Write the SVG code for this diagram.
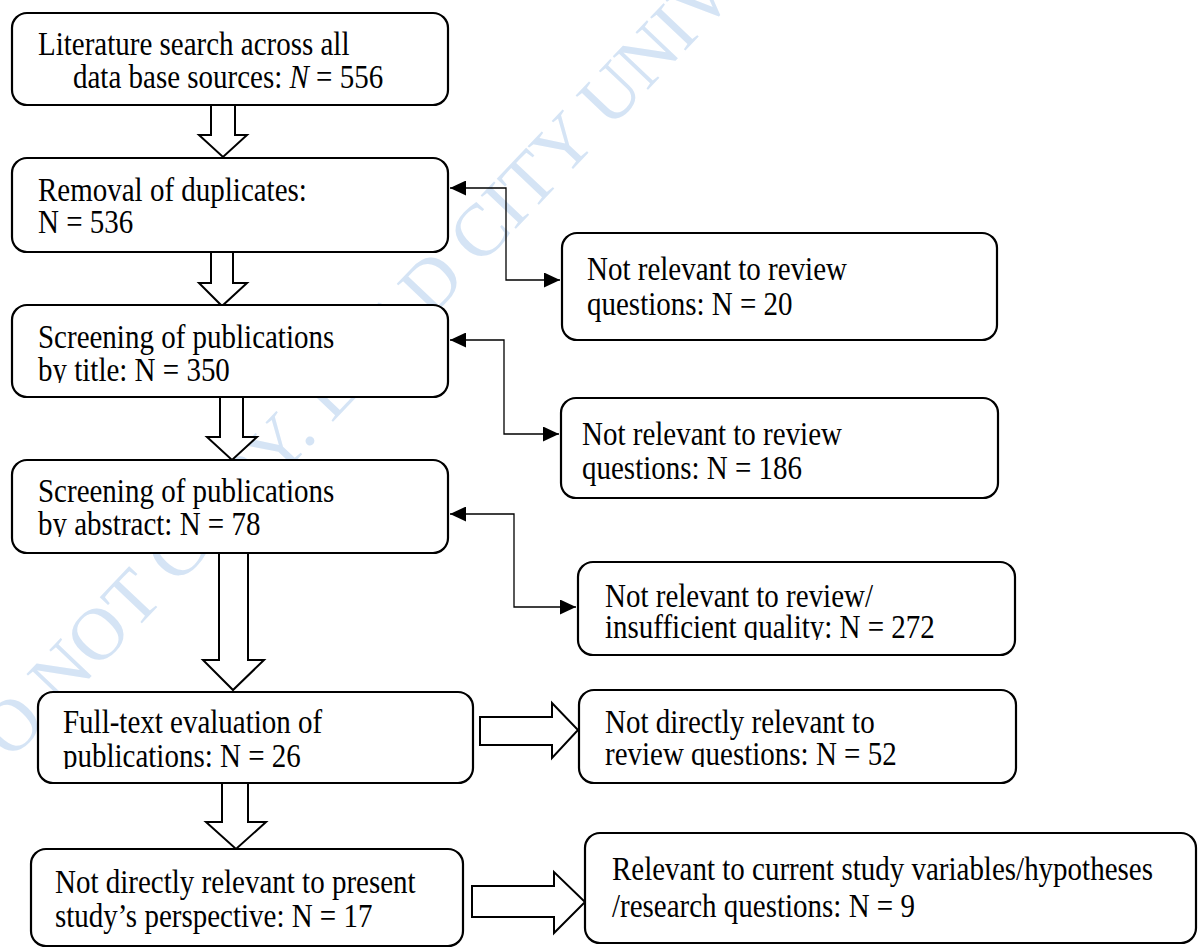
<svg xmlns="http://www.w3.org/2000/svg" width="1199" height="949" viewBox="0 0 1199 949">
<style>
.box{fill:#fff;stroke:#000;stroke-width:2.2}
.t{font-family:"Liberation Serif","Times New Roman",serif;font-size:29px;fill:#000}
.blk{fill:#fff;stroke:#000;stroke-width:2;stroke-linejoin:miter}
.conn{fill:none;stroke:#000;stroke-width:1.3}
.wm{font-family:"Liberation Serif","Times New Roman",serif;font-size:74px;fill:#d5e4f5}
</style>
<defs>
<marker id="ah" viewBox="0 0 16 15" refX="16" refY="7.5" markerWidth="16" markerHeight="15" markerUnits="userSpaceOnUse" orient="auto-start-reverse"><path d="M0,0 L16,7.5 L0,15 Z" fill="#000"/></marker>
<clipPath id="c3"><rect x="0" y="0" width="1199" height="383"/></clipPath>
<clipPath id="c4"><rect x="0" y="0" width="1199" height="537"/></clipPath>
<clipPath id="c7"><rect x="0" y="0" width="1199" height="640"/></clipPath>
<clipPath id="c8"><rect x="0" y="0" width="1199" height="769"/></clipPath>
<clipPath id="c9"><rect x="0" y="0" width="1199" height="767"/></clipPath>
</defs>
<rect width="1199" height="949" fill="#fff"/>
<text class="wm" transform="translate(-26,800) rotate(-46.5)">DO NOT COPY. LEAD CITY UNIVERSITY</text>

<g id="flow-arrows">
<path class="blk" d="M211,105 V135 H199 L223,157 L247,135 H235 V105"/>
<path class="blk" d="M211,252 V283 H199 L222,306 L247,283 H233 V252"/>
<path class="blk" d="M220,397 V437 H207 L232,460 L257,437 H243 V397"/>
<path class="blk" d="M219,553 V660 H203 L233,690 L264,660 H248 V553"/>
<path class="blk" d="M222,783 V822 H206 L236,849 L266,822 H248 V783"/>
<path class="blk" d="M480,717 H552 V703 L578,730 L552,758 V745 H480 Z"/>
<path class="blk" d="M472,886 H554 V872 L585,902 L554,933 V917 H472 Z"/>
</g>

<g id="connectors">
<path class="conn" d="M560,280 H506 V188 H450" marker-start="url(#ah)" marker-end="url(#ah)"/>
<path class="conn" d="M559,434 H504 V340 H450" marker-start="url(#ah)" marker-end="url(#ah)"/>
<path class="conn" d="M576,607 H514 V514 H450" marker-start="url(#ah)" marker-end="url(#ah)"/>
</g>

<g id="n1">
<rect class="box" x="12" y="13" width="436" height="92" rx="15"/>
<text class="t" transform="translate(38,55) scale(1,1.18)">Literature search across all</text>
<text class="t" transform="translate(73,88) scale(1,1.18)">data base sources: <tspan font-style="italic">N</tspan> = 556</text>
</g>
<g id="n2">
<rect class="box" x="12" y="158" width="436" height="94" rx="15"/>
<text class="t" transform="translate(38,201) scale(1,1.18)">Removal of duplicates:</text>
<text class="t" transform="translate(38,233) scale(1,1.18)">N = 536</text>
</g>
<g id="n3">
<rect class="box" x="12" y="305" width="436" height="92" rx="15"/>
<text class="t" transform="translate(38,348) scale(1,1.18)">Screening of publications</text>
<g clip-path="url(#c3)"><text class="t" transform="translate(38,381) scale(1,1.18)">by title: N = 350</text></g>
</g>
<g id="n4">
<rect class="box" x="12" y="460" width="436" height="93" rx="15"/>
<text class="t" transform="translate(38,502) scale(1,1.18)">Screening of publications</text>
<g clip-path="url(#c4)"><text class="t" transform="translate(38,535) scale(1,1.18)">by abstract: N = 78</text></g>
</g>
<g id="n5">
<rect class="box" x="562" y="233" width="435" height="107" rx="15"/>
<text class="t" transform="translate(587,280) scale(1,1.18)">Not relevant to review</text>
<text class="t" transform="translate(587,315) scale(1,1.18)">questions: N = 20</text>
</g>
<g id="n6">
<rect class="box" x="561" y="398" width="437" height="100" rx="15"/>
<text class="t" transform="translate(582,445) scale(1,1.18)">Not relevant to review</text>
<text class="t" transform="translate(582,479) scale(1,1.18)">questions: N = 186</text>
</g>
<g id="n7">
<rect class="box" x="578" y="562" width="437" height="93" rx="15"/>
<text class="t" transform="translate(605,607) scale(1,1.18)">Not relevant to review/</text>
<g clip-path="url(#c7)"><text class="t" transform="translate(605,638) scale(1,1.18)">insufficient quality: N = 272</text></g>
</g>
<g id="n8">
<rect class="box" x="38" y="692" width="435" height="91" rx="15"/>
<text class="t" transform="translate(63,733) scale(1,1.18)">Full-text evaluation of</text>
<g clip-path="url(#c8)"><text class="t" transform="translate(63,767) scale(1,1.18)">publications: N = 26</text></g>
</g>
<g id="n9">
<rect class="box" x="579" y="690" width="437" height="93" rx="15"/>
<text class="t" transform="translate(605,733) scale(1,1.18)">Not directly relevant to</text>
<g clip-path="url(#c9)"><text class="t" transform="translate(605,765) scale(1,1.18)">review questions: N = 52</text></g>
</g>
<g id="n10">
<rect class="box" x="31" y="849" width="432" height="97" rx="15"/>
<text class="t" transform="translate(55,893) scale(1,1.18)">Not directly relevant to present</text>
<text class="t" transform="translate(55,927) scale(1,1.18)">study’s perspective: N = 17</text>
</g>
<g id="n11">
<rect class="box" x="585" y="833" width="611" height="110" rx="15"/>
<text class="t" transform="translate(612,880) scale(1,1.18)">Relevant to current study variables/hypotheses</text>
<text class="t" transform="translate(612,917) scale(1,1.18)">/research questions: N = 9</text>
</g>
</svg>
